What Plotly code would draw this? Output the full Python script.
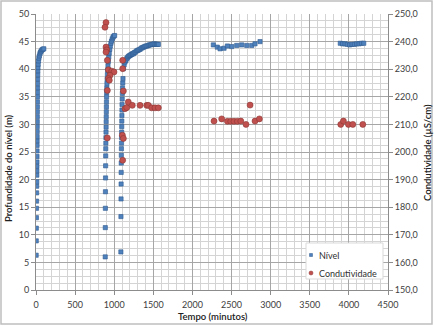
import plotly.graph_objects as go

# Nível (profundidade, m) - tempo em minutos
nivel_t = [2, 3, 4, 5, 6, 7, 8, 9, 10, 10.5, 11, 11.5, 12, 12.5, 13, 13.5, 14, 14.5, 15, 15.5,
           16, 16.5, 17, 17.5, 18, 18.5, 19, 19.5, 20, 21, 22, 23, 25, 28, 32, 37, 43, 50, 58, 67,
           77, 88, 100,
           885, 886, 887, 888, 889, 890, 891, 892, 893, 894, 895, 896, 897, 898, 899, 900, 901,
           902, 903, 905, 907, 910, 913, 916, 920, 925, 930, 936, 943, 950, 958, 966, 975, 985,
           995, 1005,
           1085, 1086, 1087, 1088, 1089, 1090, 1091, 1092, 1093, 1094, 1095, 1096, 1097, 1098,
           1099, 1100, 1102, 1104, 1106, 1109, 1112, 1117, 1127, 1138, 1149, 1160, 1170, 1180,
           1191, 1202, 1213, 1225, 1235, 1245, 1257, 1270, 1285, 1300, 1315, 1330, 1345, 1360,
           1375, 1390, 1405, 1420, 1435, 1450, 1465, 1480, 1495, 1510, 1525, 1540, 1552, 1565,
           2267, 2318, 2353, 2404, 2447, 2502, 2566, 2630, 2694, 2758, 2800, 2864,
           3890, 3920, 3950, 3980, 4010, 4040, 4070, 4100, 4130, 4160, 4190]
nivel_v = [6.3, 8.9, 11.2, 13.1, 14.8, 16.1, 17.6, 18.8, 19.6, 20.8, 21.6, 22.4, 23.2, 24.2, 25.2,
           26.2, 27.0, 27.8, 28.7, 29.6, 30.5, 31.4, 32.3, 33.2, 34.1, 35.0, 35.8, 36.6, 37.4,
           38.2, 39.0, 39.7, 40.3, 40.9, 41.5, 42.0, 42.4, 42.8, 43.1, 43.3, 43.5, 43.6, 43.7,
           6.0, 11.3, 14.8, 17.8, 20.3, 22.5, 24.3, 25.6, 26.6, 27.6, 28.6, 29.5, 30.5, 31.4,
           32.3, 33.2, 34.1, 35.0, 35.8, 36.6, 37.4, 38.2, 39.0, 39.8, 40.6, 41.4, 42.2, 42.9,
           43.6, 44.2, 44.7, 45.1, 45.5, 45.8, 46.0, 46.1,
           6.9, 13.3, 16.5, 19.2, 21.3, 23.0, 24.4, 25.6, 26.6, 27.6, 28.6, 29.6, 30.6, 31.6,
           32.6, 33.6, 34.6, 35.6, 36.6, 37.5, 38.3, 40.1, 40.8, 41.3, 41.6, 41.9, 42.1, 42.3,
           42.4, 42.5, 42.6, 42.7, 42.8, 42.8, 43.0, 43.1, 43.3, 43.4, 43.5, 43.6, 43.8, 43.9,
           44.0, 44.1, 44.2, 44.2, 44.3, 44.4, 44.4, 44.5, 44.5, 44.6, 44.5, 44.5, 44.5, 44.5,
           44.4, 44.0, 43.7, 43.8, 44.2, 44.1, 44.3, 44.4, 44.3, 44.3, 44.6, 45.0,
           44.7, 44.6, 44.6, 44.5, 44.4, 44.5, 44.5, 44.6, 44.6, 44.7, 44.7]

# Condutividade (µS/cm)
cond_t = [895, 882, 895, 904, 895, 912, 925, 968, 997, 946, 925, 937, 912, 912,
          1108, 1108, 1117, 1138, 1160, 1180, 1231, 1330, 1416, 1436, 1479, 1522, 1564,
          1104, 1117, 1108,
          2276, 2374, 2447, 2490, 2532, 2575, 2618, 2685, 2737, 2800, 2856,
          3896, 3930, 3994, 4050, 4178]
cond_v = [246.9, 245.2, 238.0, 237.0, 236.2, 233.2, 229.8, 229.3, 229.0, 227.8, 226.6, 226.0,
          222.3, 205.1,
          233.2, 230.2, 222.1, 215.7, 216.1, 218.1, 216.9, 216.9, 216.9, 216.9, 216.0, 216.0,
          216.0, 206.1, 204.9, 197.0,
          211.2, 212.0, 211.1, 211.1, 211.1, 211.1, 211.2, 210.0, 217.0, 211.2, 212.0,
          210.0, 211.2, 210.0, 210.0, 210.0]

series_names = ["Nível", "Condutividade"]
series_colors = ["#4f81bd", "#c0504d"]
series_edges = ["#2f5a8e", "#8c3836"]

FONT = "Lato"
W, H = 434, 326
ML, MR, MT, MB = 36, 46, 14, 36
PW, PH = W - ML - MR, H - MT - MB


def px(x):
    return (x - ML) / PW


def py(y):
    return (H - MB - y) / PH


fig = go.Figure()
fig.add_trace(go.Scatter(
    x=nivel_t, y=nivel_v, mode="markers", name=series_names[0], showlegend=False,
    marker=dict(symbol="square", size=4.2, color=series_colors[0],
                line=dict(color=series_edges[0], width=0.6)),
    yaxis="y"))
fig.add_trace(go.Scatter(
    x=cond_t, y=cond_v, mode="markers", name=series_names[1], showlegend=False,
    marker=dict(symbol="circle", size=6, color=series_colors[1],
                line=dict(color=series_edges[1], width=0.6)),
    yaxis="y2"))

title_font = dict(family=FONT, size=9.5, color="#202020", weight=600)

annotations = [
    dict(text="Tempo (minutos)", x=px(213), y=py(316), xref="paper", yref="paper",
         showarrow=False, xanchor="center", yanchor="middle", font=title_font),
    dict(text="Profundidade do nível (m)", x=px(8), y=py(168), xref="paper", yref="paper",
         showarrow=False, xanchor="center", yanchor="middle", textangle=-90, font=title_font),
    dict(text="Condutividade (µS/cm)", x=px(427), y=py(153), xref="paper", yref="paper",
         showarrow=False, xanchor="center", yanchor="middle", textangle=-90, font=title_font),
]

shapes = [
    dict(type="rect", xref="paper", yref="paper",
         x0=px(1), x1=px(432), y0=py(324), y1=py(1),
         line=dict(color="#bfbfbf", width=1.5), fillcolor="rgba(0,0,0,0)", layer="below"),
    # legend box
    dict(type="rect", xref="paper", yref="paper",
         x0=px(306), x1=px(383), y0=py(279), y1=py(243),
         line=dict(color="#d9d9d9", width=1), fillcolor="white", layer="above"),
]
leg_y = [255, 273]
for i, name in enumerate(series_names):
    yc = leg_y[i]
    if i == 0:
        shapes.append(dict(type="rect", xref="paper", yref="paper",
                           x0=px(309.5), x1=px(312.5), y0=py(yc + 1.5), y1=py(yc - 1.5),
                           line=dict(color=series_edges[i], width=0.5),
                           fillcolor=series_colors[i], layer="above"))
    else:
        shapes.append(dict(type="circle", xref="paper", yref="paper",
                           x0=px(309), x1=px(313), y0=py(yc + 2), y1=py(yc - 2),
                           line=dict(color=series_edges[i], width=0.5),
                           fillcolor=series_colors[i], layer="above"))
    annotations.append(dict(text=name, x=px(317), y=py(yc), xref="paper", yref="paper",
                            showarrow=False, xanchor="left", yanchor="middle",
                            font=dict(family=FONT, size=9, color="#303030")))

fig.update_layout(
    width=W, height=H,
    margin=dict(l=ML, r=MR, t=MT, b=MB, autoexpand=False),
    paper_bgcolor="white", plot_bgcolor="white",
    separators=",.",
    font=dict(family=FONT, size=9, color="#404040"),
    showlegend=False,
    xaxis=dict(range=[0, 4500], dtick=500, tick0=0,
               showgrid=True, gridcolor="#a6a6a6", gridwidth=1.3,
               minor=dict(dtick=100, showgrid=True, gridcolor="#d4d4d4", gridwidth=1.2,
                          ticks=""),
               showline=True, linecolor="#8c8c8c", linewidth=1,
               ticks="outside", ticklen=4, tickcolor="#8c8c8c",
               ticklabelstandoff=2,
               zeroline=False),
    yaxis=dict(range=[0, 50], dtick=5, tick0=0,
               showgrid=True, gridcolor="#a6a6a6", gridwidth=1.3,
               minor=dict(dtick=1.25, showgrid=True, gridcolor="#d4d4d4", gridwidth=1.2,
                          ticks=""),
               showline=True, linecolor="#8c8c8c", linewidth=1,
               ticks="outside", ticklen=4, tickcolor="#8c8c8c",
               zeroline=False),
    yaxis2=dict(range=[150, 250], dtick=10, tick0=150, overlaying="y", side="right",
                tickformat=".1f", showgrid=False, zeroline=False,
                showline=True, linecolor="#8c8c8c", linewidth=1,
                ticks="outside", ticklen=4, tickcolor="#8c8c8c"),
    shapes=shapes,
    annotations=annotations,
)

fig.write_html("out.html")
